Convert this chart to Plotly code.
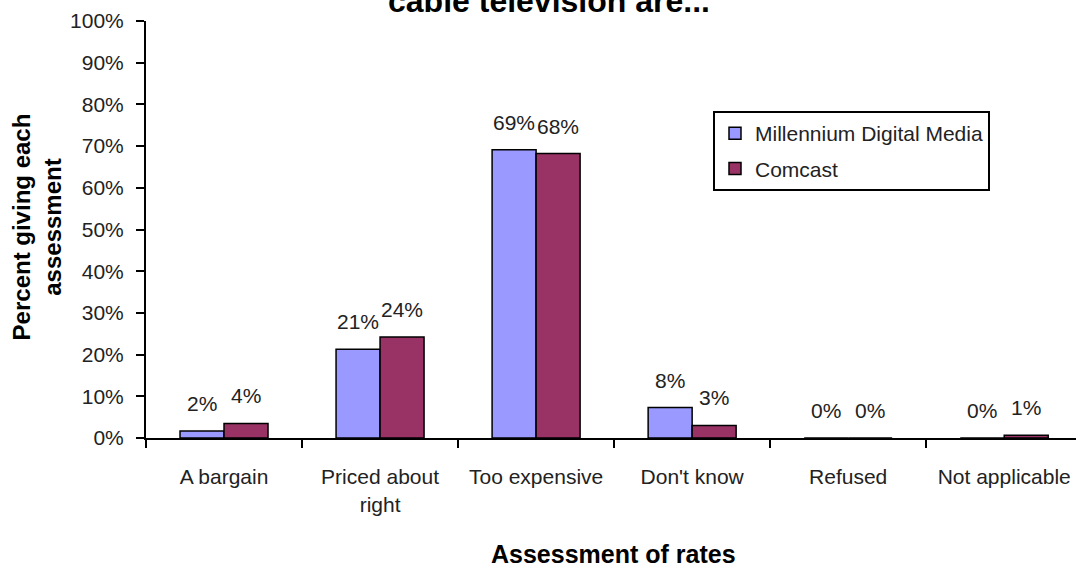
import plotly.graph_objects as go

categories = ["A bargain", "Priced about right", "Too expensive", "Don't know", "Refused", "Not applicable"]
tick_labels = ["A bargain", "Priced about<br>right", "Too expensive", "Don't know", "Refused", "Not applicable"]
series_names = ["Millennium Digital Media", "Comcast"]
mdm_values = [1.7, 21.3, 69.1, 7.3, 0.0, 0.0]
comcast_values = [3.5, 24.2, 68.2, 3.0, 0.0, 0.65]
mdm_labels = ["2%", "21%", "69%", "8%", "0%", "0%"]
comcast_labels = ["4%", "24%", "68%", "3%", "0%", "1%"]
y_ticks = list(range(0, 101, 10))
y_tick_text = [f"{v}%" for v in y_ticks]

FONT = "Liberation Sans, Arial, sans-serif"
TXT = "#222222"
colors = ["#9999FF", "#993366"]

fig = go.Figure()
for i, (name, vals, col) in enumerate(zip(series_names, [mdm_values, comcast_values], colors)):
    fig.add_trace(go.Bar(
        x=categories, y=vals, name=name, legendgroup=f"g{i}",
        marker=dict(color=col, line=dict(color="black", width=1.5)),
    ))

annotations = []
for vals, labels, shift in [(mdm_values, mdm_labels, -22), (comcast_values, comcast_labels, 22)]:
    for c, v, t in zip(categories, vals, labels):
        annotations.append(dict(
            x=c, y=v, xref="x", yref="y", text=t, showarrow=False,
            xshift=shift, yanchor="bottom", yshift=14,
            font=dict(family=FONT, size=21, color=TXT),
        ))

annotations.append(dict(
    x=0.433, y=1, xref="paper", yref="paper", yanchor="bottom", yshift=0,
    text="<b>cable television are...</b>", showarrow=False,
    font=dict(family=FONT, size=32, color="black"),
))
annotations.append(dict(
    x=(37 - 146) / 930, y=0.505, xref="paper", yref="paper", textangle=-90,
    xanchor="center", yanchor="middle",
    text="<b>Percent giving each<br>assessment</b>", showarrow=False,
    font=dict(family=FONT, size=24, color="black"),
))
annotations.append(dict(
    x=0.503, y=-0.279, xref="paper", yref="paper", xanchor="center", yanchor="middle",
    text="<b>Assessment of rates</b>", showarrow=False,
    font=dict(family=FONT, size=25, color="black"),
))

fig.update_layout(
    width=1076, height=567,
    margin=dict(l=146, r=0, t=21, b=129),
    paper_bgcolor="white", plot_bgcolor="white",
    barmode="group", bargap=0.436, bargroupgap=0,
    font=dict(family=FONT, size=21, color=TXT),
    showlegend=True,
    legend=dict(
        x=(713 - 146) / 930, y=(438 - 111) / 417, xanchor="left", yanchor="top",
        bordercolor="black", borderwidth=2, bgcolor="white",
        font=dict(family=FONT, size=21, color=TXT),
        tracegroupgap=5, itemwidth=30,
    ),
    xaxis=dict(
        tickmode="array", tickvals=categories, ticktext=tick_labels,
        showline=True, linecolor="black", linewidth=2,
        ticks="outside", tickson="boundaries", ticklen=8, tickwidth=2, tickcolor="black",
        showgrid=False, range=[-0.5, 5.46], automargin=False,
        ticklabelstandoff=19,
        tickfont=dict(family=FONT, size=21, color=TXT),
    ),
    yaxis=dict(
        range=[0, 100], tickvals=y_ticks, ticktext=y_tick_text,
        showline=True, linecolor="black", linewidth=2,
        ticks="outside", ticklen=8, tickwidth=2, tickcolor="black",
        showgrid=False, zeroline=False, automargin=False,
        ticklabelstandoff=8,
        tickfont=dict(family=FONT, size=21, color=TXT),
    ),
    annotations=annotations,
)

fig.write_html(
    "out.html",
    config={"displayModeBar": False, "staticPlot": True},
    post_script="document.body.style.margin='0';document.body.style.overflow='hidden';",
)
